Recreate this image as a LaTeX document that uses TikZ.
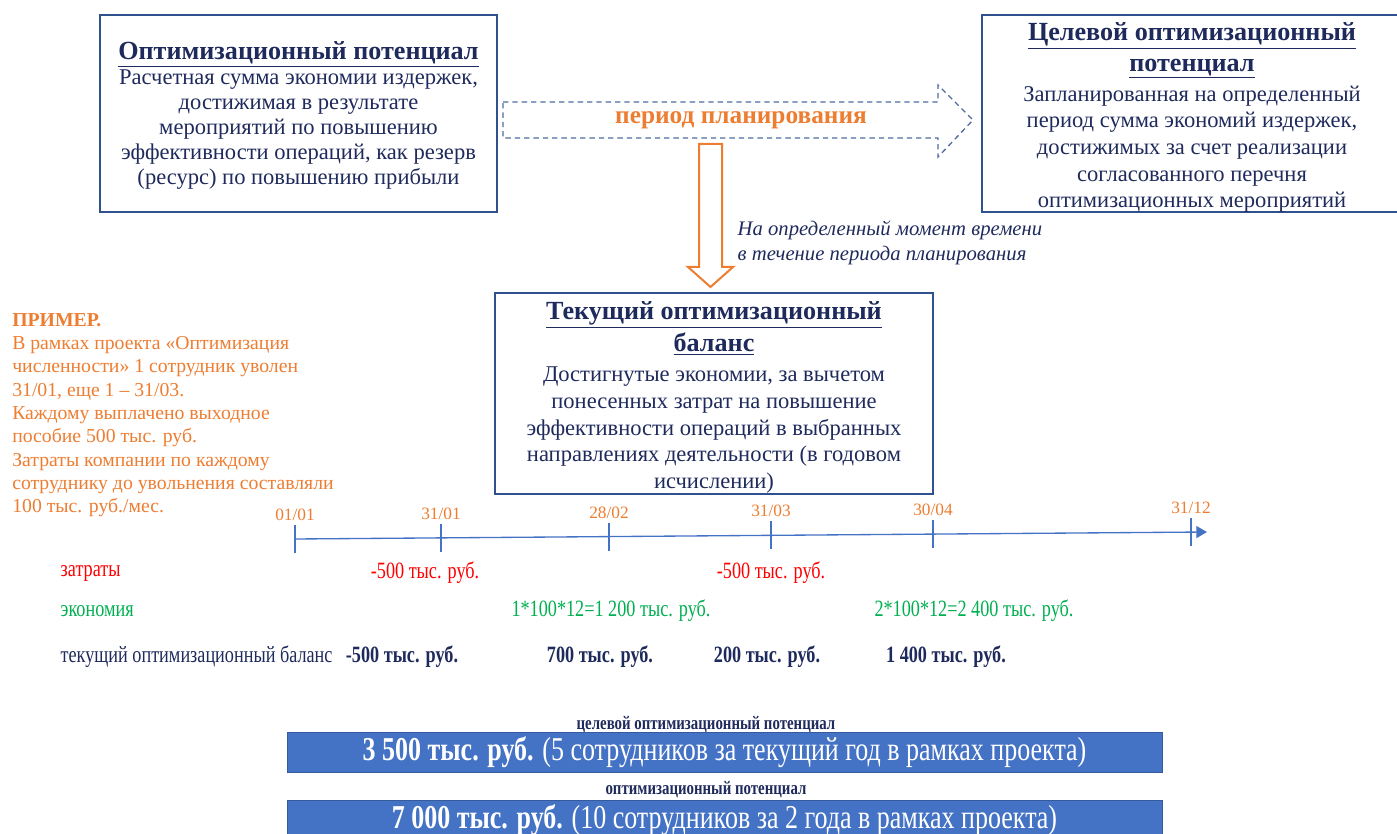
\documentclass[tikz,border=0pt]{standalone}
\usepackage{fontspec}
\setmainfont{Liberation Serif}
\newfontfamily\serifrm{Liberation Serif}
\newfontfamily\narrowfont[FakeStretch=0.78]{Liberation Serif}
\usetikzlibrary{arrows.meta}

\definecolor{navy}{HTML}{1F2A5C}
\definecolor{boxblue}{HTML}{2F528F}
\definecolor{orng}{HTML}{ED7D31}
\definecolor{barblue}{HTML}{4472C4}
\definecolor{grn}{HTML}{00B050}
\definecolor{rd}{HTML}{FF0000}

\newcommand{\heading}[1]{{\fontsize{19.6}{23}\selectfont\bfseries\underline{#1}}}

\begin{document}
\begin{tikzpicture}[x=0.75pt,y=-0.75pt,
        infobox/.style={draw=boxblue,line width=1.5pt,inner sep=0pt,
            minimum height=147.75pt},
        boxtext/.style={align=center,text=navy,inner sep=0pt,
            font=\serifrm\fontsize{16.9}{18.75}\selectfont},
        planarrow/.style={draw=boxblue!85,line width=1pt,dash pattern=on 4pt off 3pt},
        downarrow/.style={draw=orng,fill=white,line width=1.5pt},
        timeline/.style={draw=barblue,line width=1pt},
        datelbl/.style={text=orng,font=\serifrm\fontsize{13}{15}\selectfont},
        rowlbl/.style={anchor=west,font=\narrowfont\fontsize{17.5}{20}\selectfont},
        rowval/.style={font=\narrowfont\fontsize{17.5}{20}\selectfont},
        balval/.style={text=navy,font=\narrowfont\fontsize{17.5}{20}\selectfont\bfseries},
        barlbl/.style={text=navy,font=\narrowfont\fontsize{14.3}{16}\selectfont\bfseries},
        bar/.style={fill=barblue,draw=barblue!80!black,line width=0.5pt,text=white,
            minimum width=656.25pt,font=\narrowfont\fontsize{25}{28}\selectfont}
    ]
    \useasboundingbox (0,0) rectangle (1397,834);

    \node[infobox,minimum width=297.75pt] (potential) at (298.5,113.5) {};
    \node[boxtext] (potentialtext) at ([yshift=-1.5pt]potential.center)
        {\heading{Оптимизационный потенциал}\\[0pt]
         Расчетная сумма экономии издержек,\\
         достижимая в результате\\
         мероприятий по повышению\\
         эффективности операций, как резерв\\
         (ресурс) по повышению прибыли};

    \node[infobox,minimum width=321pt] (target) at (1196,113.5) {};
    \node[boxtext,font=\serifrm\fontsize{16.9}{20}\selectfont] (targettext)
        at ([xshift=-3pt,yshift=-3pt]target.center)
        {\heading{Целевой оптимизационный}\\[3pt]
         \heading{потенциал}\\[2.5pt]
         Запланированная на определенный\\
         период сумма экономий издержек,\\
         достижимых за счет реализации\\
         согласованного перечня\\
         оптимизационных мероприятий};

    \draw[planarrow] (503,102) -- (938,102) -- (938,85) -- (973,120)
        -- (938,157) -- (938,138) -- (503,138) -- cycle;
    \node[text=orng,font=\serifrm\fontsize{19}{22}\selectfont\bfseries] (plan) at (741,120)
        {период планирования};

    \draw[downarrow] (699,144) -- (722,144) -- (722,267) -- (733,267)
        -- (710.5,287) -- (688,267) -- (699,267) -- cycle;
    \node[anchor=north west,align=left,text=navy,
        font=\serifrm\fontsize{15.5}{18.75}\selectfont\itshape] (moment) at (733,216)
        {На определенный момент времени\\в течение периода планирования};

    \node[infobox,minimum width=328.5pt,minimum height=150.75pt] (current) at (714,393.5) {};
    \node[boxtext,font=\serifrm\fontsize{16.9}{20}\selectfont] (currenttext)
        at ([yshift=-3pt]current.center)
        {\heading{Текущий оптимизационный}\\[3pt]
         \heading{баланс}\\[2.5pt]
         Достигнутые экономии, за вычетом\\
         понесенных затрат на повышение\\
         эффективности операций в выбранных\\
         направлениях деятельности (в годовом\\
         исчислении)};

    \node[anchor=north west,align=left,text=orng,inner sep=0pt,
        font=\serifrm\fontsize{14.8}{17.5}\selectfont] (example) at (12,313)
        {\textbf{ПРИМЕР.}\\
         В рамках проекта «Оптимизация\\
         численности» 1 сотрудник уволен\\
         31/01, еще 1 – 31/03.\\
         Каждому выплачено выходное\\
         пособие 500 тыс. руб.\\
         Затраты компании по каждому\\
         сотруднику до увольнения составляли\\
         100 тыс. руб./мес.};

    \coordinate (start) at (295,539);
    \coordinate (finish) at (1207,532);
    \draw[timeline,-{Triangle[length=8pt,width=9pt]}] (start) -- (finish);
    \foreach \xx/\yy/\dd [count=\i] in {295/539/{01/01},441/538/{31/01},609/536.6/{28/02},
            771/535.3/{31/03},933/534/{30/04},1191/532.2/{31/12}}{
        \draw[timeline] (\xx,\yy-14) -- (\xx,\yy+14);
        \node[datelbl] (d\i) at (\xx,\yy-24) {\dd};
    }

    \node[rowlbl,text=rd] (costs) at (56,573) {затраты};
    \node[rowval,text=rd] (cost1) at (425,573) {-500 тыс. руб.};
    \node[rowval,text=rd] (cost2) at (771,573) {-500 тыс. руб.};

    \node[rowlbl,text=grn] (savings) at (56,611) {экономия};
    \node[rowval,text=grn] (save1) at (611,611) {1*100*12=1 200 тыс. руб.};
    \node[rowval,text=grn] (save2) at (974,611) {2*100*12=2 400 тыс. руб.};

    \node[rowlbl,text=navy] (balance) at (56,657) {текущий оптимизационный баланс};
    \node[balval] (bal1) at (402,657) {-500 тыс. руб.};
    \node[balval] (bal2) at (600,657) {700 тыс. руб.};
    \node[balval] (bal3) at (767,657) {200 тыс. руб.};
    \node[balval] (bal4) at (946,657) {1 400 тыс. руб.};

    \node[barlbl] (targetlbl) at (706,725) {целевой оптимизационный потенциал};
    \node[bar,minimum height=27.75pt] (targetbar) at (724.5,752.5)
        {\textbf{3 500 тыс. руб.} (5 сотрудников за текущий год в рамках проекта)};
    \node[barlbl] (potentiallbl) at (706,790) {оптимизационный потенциал};
    \node[bar,minimum height=30pt] (potentialbar) at (724.5,820)
        {\textbf{7 000 тыс. руб.} (10 сотрудников за 2 года в рамках проекта)};

\end{tikzpicture}
\end{document}
